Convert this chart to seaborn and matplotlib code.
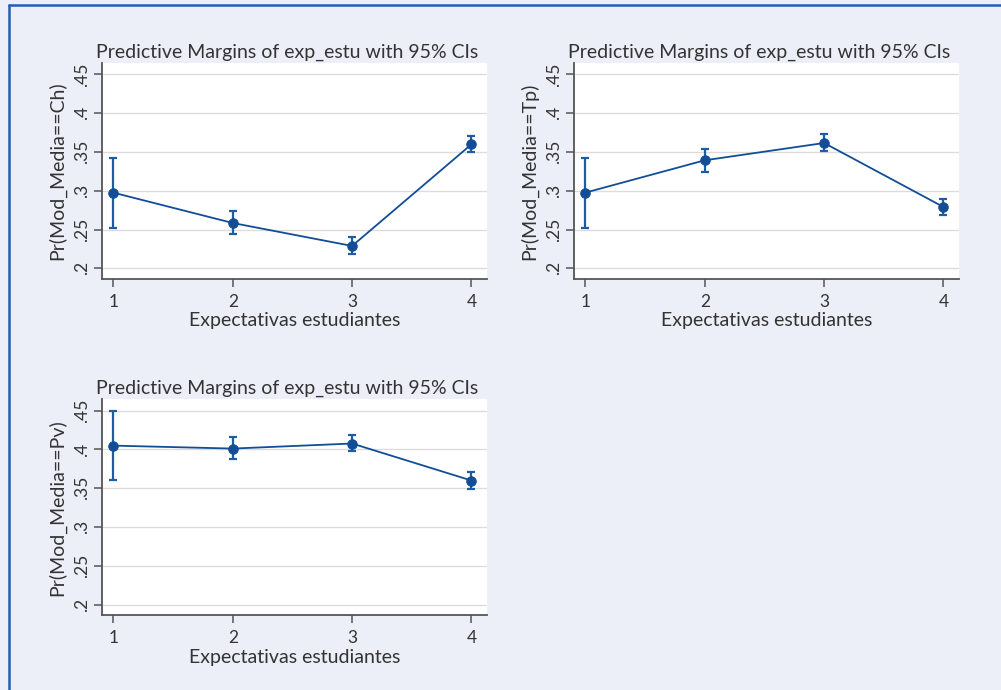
import matplotlib
matplotlib.use("Agg")
import matplotlib.pyplot as plt
import seaborn as sns
import pandas as pd
from matplotlib.lines import Line2D

# Expectation levels (x categories)
levels = [1, 2, 3, 4]

# Predictive margins and 95% CIs by media model
ch_margin = [0.2975, 0.2584, 0.2288, 0.3598]
ch_lower = [0.2520, 0.2447, 0.2185, 0.3495]
ch_upper = [0.3420, 0.2735, 0.2400, 0.3710]

tp_margin = [0.2975, 0.3392, 0.3615, 0.2790]
tp_lower = [0.2520, 0.3246, 0.3512, 0.2683]
tp_upper = [0.3420, 0.3534, 0.3727, 0.2898]

pv_margin = [0.4049, 0.4011, 0.4076, 0.3599]
pv_lower = [0.3602, 0.3874, 0.3977, 0.3495]
pv_upper = [0.4496, 0.4162, 0.4192, 0.3714]

y_ticks = [0.2, 0.25, 0.3, 0.35, 0.4, 0.45]
y_tick_labels = [".2", ".25", ".3", ".35", ".4", ".45"]

title = "Predictive Margins of exp_estu with 95% CIs"
x_label = "Expectativas estudiantes"
y_labels = ["Pr(Mod_Media==Ch)", "Pr(Mod_Media==Tp)", "Pr(Mod_Media==Pv)"]

BG = "#eceff7"
NAVY = "#124d96"
BAR = "#1f5ca6"
AXIS = "#555555"
TEXT = "#333333"

sns.set_theme(style="white")
plt.rcParams["font.family"] = ["Lato", "DejaVu Sans"]

fig = plt.figure(figsize=(10.01, 6.90), dpi=100)
fig.patch.set_facecolor(BG)

# Blue frame lines along the top and left edges
fig.add_artist(Line2D([9 / 1001, 1.0], [1 - 5 / 690, 1 - 5 / 690],
                      transform=fig.transFigure, color="#1f5fb0", lw=1.8))
fig.add_artist(Line2D([9 / 1001, 9 / 1001], [0.0, 1 - 5 / 690],
                      transform=fig.transFigure, color="#1f5fb0", lw=1.8))

panels = [
    (ch_margin, ch_lower, ch_upper, y_labels[0], [102 / 1001, 1 - 279 / 690]),
    (tp_margin, tp_lower, tp_upper, y_labels[1], [574 / 1001, 1 - 279 / 690]),
    (pv_margin, pv_lower, pv_upper, y_labels[2], [102 / 1001, 1 - 615.3 / 690]),
]

w = 385 / 1001
h = 216 / 690

for margin, lower, upper, ylab, (x0, y0) in panels:
    ax = fig.add_axes([x0, y0, w, h])
    ax.set_facecolor("white")
    df = pd.DataFrame({"level": levels, "margin": margin,
                       "lower": lower, "upper": upper})

    ax.errorbar(df["level"], df["margin"],
                yerr=[df["margin"] - df["lower"], df["upper"] - df["margin"]],
                fmt="none", ecolor=BAR, elinewidth=1.6, capsize=2.8,
                capthick=1.6, zorder=3)
    sns.lineplot(data=df, x="level", y="margin", ax=ax, color=NAVY,
                 linewidth=1.3, marker="o", markersize=6.8,
                 markeredgecolor=NAVY, markerfacecolor=NAVY, zorder=4)

    ax.set_xlim(0.905, 4.13)
    ax.set_ylim(0.1862, 0.4646)
    ax.set_xticks(levels)
    ax.set_xticklabels([str(v) for v in levels])
    ax.set_yticks(y_ticks)
    ax.set_yticklabels(y_tick_labels, rotation=90, va="center")
    ax.grid(axis="y", color="#dcdcdc", linewidth=1.0)
    ax.grid(axis="x", visible=False)

    for side in ("top", "right"):
        ax.spines[side].set_visible(False)
    for side in ("left", "bottom"):
        ax.spines[side].set_color(AXIS)
        ax.spines[side].set_linewidth(1.3)

    ax.tick_params(axis="both", which="major", direction="out", length=5.5,
                   width=1.1, color=AXIS, labelsize=12.5,
                   labelcolor=TEXT, left=True, bottom=True)
    ax.tick_params(axis="x", pad=5)
    ax.tick_params(axis="y", pad=3)

    ax.set_title(title, fontsize=14, color=TEXT, pad=4, x=0.48)
    ax.set_xlabel(x_label, fontsize=14, color=TEXT, labelpad=2)
    ax.set_ylabel(ylab, fontsize=14, color=TEXT, labelpad=6)

fig.savefig("out.png", dpi=100, facecolor=BG)
